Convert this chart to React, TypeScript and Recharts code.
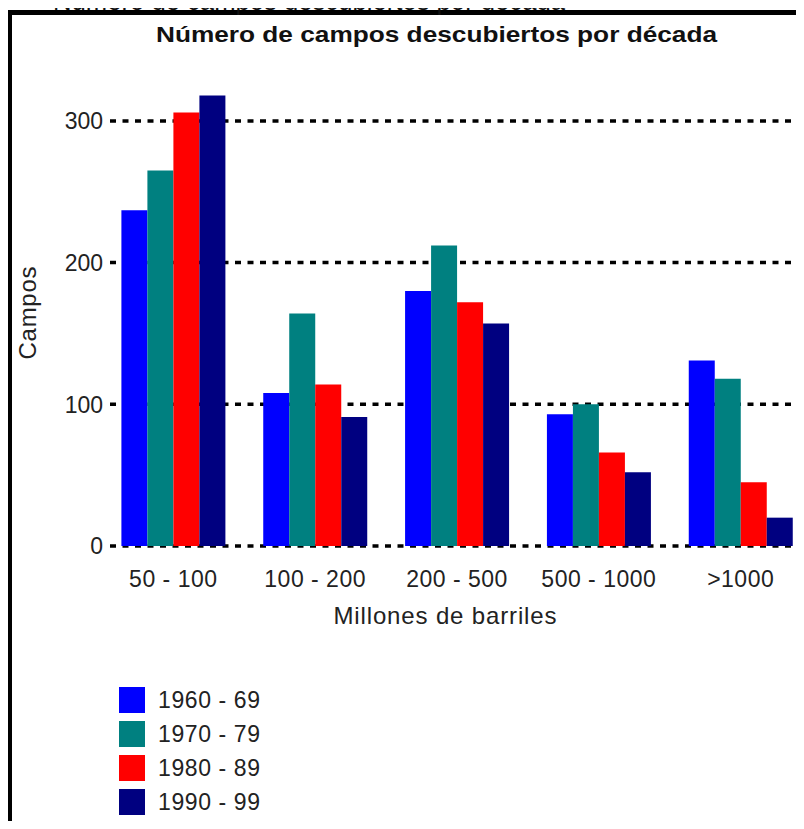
import React from 'react';
import { BarChart, Bar, XAxis, YAxis, CartesianGrid, Legend } from 'recharts';

const categories = ['50 - 100', '100 - 200', '200 - 500', '500 - 1000', '>1000'];
const series1960 = [237, 108, 180, 93, 131];
const series1970 = [265, 164, 212, 100, 118];
const series1980 = [306, 114, 172, 66, 45];
const series1990 = [318, 91, 157, 52, 20];
const seriesNames = ['1960 - 69', '1970 - 79', '1980 - 89', '1990 - 99'];
const seriesColors = ['#0000FF', '#008080', '#FF0000', '#000080'];
const yTicks = [0, 100, 200, 300];
const titleText = 'Número de campos descubiertos por década';
const xAxisTitle = 'Millones de barriles';
const yAxisTitle = 'Campos';

const data = categories.map((c, i) => ({
  cat: c,
  s1960: series1960[i],
  s1970: series1970[i],
  s1980: series1980[i],
  s1990: series1990[i],
}));
const seriesKeys = ['s1960', 's1970', 's1980', 's1990'];

const FONT = '"Liberation Sans", Arial, sans-serif';
const TEXT = '#222';

const XTick = (props: any) => {
  const { x, y, payload } = props;
  return (
    <text x={x} y={y} dy={41} textAnchor="middle" fontFamily={FONT} fontSize={23} fill={TEXT} letterSpacing={0.5}>
      {payload.value}
    </text>
  );
};

const YTick = (props: any) => {
  const { x, y, payload } = props;
  return (
    <text x={x} y={y} dy={8.3} textAnchor="end" fontFamily={FONT} fontSize={23} fill={TEXT}>
      {payload.value}
    </text>
  );
};

const renderLegend = (props: any) => (
  <div style={{ display: 'flex', flexDirection: 'column' }}>
    {(props.payload || []).map((e: any) => (
      <div key={e.value} style={{ display: 'flex', alignItems: 'center', height: 34.1 }}>
        <div style={{ width: 26, height: 26, background: e.color }} />
        <span style={{ marginLeft: 13, fontFamily: FONT, fontSize: 23, color: TEXT, letterSpacing: 0.6, lineHeight: '26px' }}>
          {e.value}
        </span>
      </div>
    ))}
  </div>
);

export default function App() {
  return (
    <div style={{ position: 'relative', margin: -8, width: 804, height: 829, overflow: 'hidden', background: '#fff' }}>
      <div
        style={{
          position: 'absolute',
          left: 7,
          top: 10,
          width: 900,
          height: 900,
          borderLeft: '5.5px solid #000',
          borderTop: '5px solid #000',
        }}
      />
      <svg style={{ position: 'absolute', left: 0, top: 0 }} width={804} height={829}>
        <text x={53} y={10} fontFamily={FONT} fontSize={26} fill="#111" textLength={512} lengthAdjust="spacingAndGlyphs">
          {titleText}
        </text>
        <text
          x={436.5}
          y={42}
          textAnchor="middle"
          fontFamily={FONT}
          fontWeight="bold"
          fontSize={21.5}
          fill="#111"
          textLength={561}
          lengthAdjust="spacingAndGlyphs"
        >
          {titleText}
        </text>
        <text
          transform="translate(36,313) rotate(-90)"
          textAnchor="middle"
          fontFamily={FONT}
          fontSize={24}
          fill={TEXT}
          textLength={93}
          lengthAdjust="spacing"
        >
          {yAxisTitle}
        </text>
        <text x={445} y={624} textAnchor="middle" fontFamily={FONT} fontSize={24} fill={TEXT} textLength={223} lengthAdjust="spacing">
          {xAxisTitle}
        </text>
      </svg>
      <div style={{ position: 'absolute', left: 0, top: 0 }}>
        <BarChart
          width={804}
          height={829}
          data={data}
          margin={{ top: 78.4, right: 7, bottom: 223, left: 0 }}
          barGap={0}
          barSize={26}
        >
          <CartesianGrid
            vertical={false}
            syncWithTicks
            stroke="#000"
            strokeWidth={3.5}
            strokeDasharray="6 6.5"
          />
          <XAxis
            dataKey="cat"
            height={60}
            axisLine={false}
            tickLine={false}
            tickSize={0}
            tickMargin={0}
            interval={0}
            padding={{ left: -7.6, right: -14.6 }}
            tick={<XTick />}
          />
          <YAxis
            width={110}
            domain={[0, 330]}
            ticks={yTicks}
            axisLine={false}
            tickLine={false}
            tickSize={0}
            tickMargin={7}
            tick={<YTick />}
          />
          <Legend
            layout="vertical"
            align="center"
            verticalAlign="middle"
            wrapperStyle={{ position: 'absolute', left: 119, top: 682.6, width: 'auto', height: 'auto' }}
            content={renderLegend}
          />
          {seriesKeys.map((k, i) => (
            <Bar key={k} dataKey={k} name={seriesNames[i]} fill={seriesColors[i]} isAnimationActive={false} />
          ))}
        </BarChart>
      </div>
    </div>
  );
}
